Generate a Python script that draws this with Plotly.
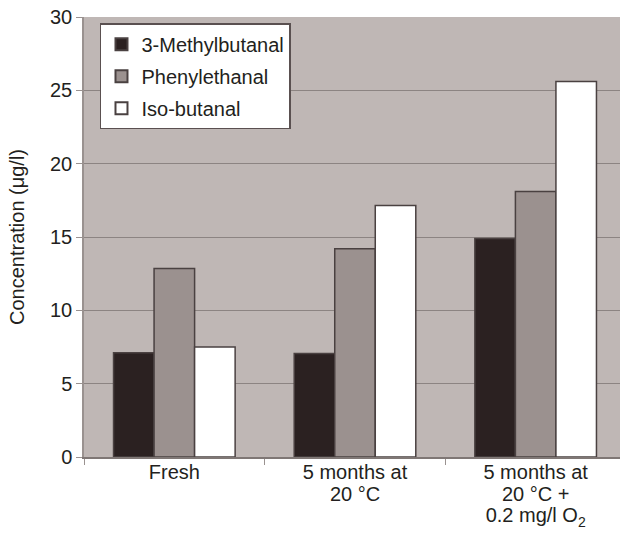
import plotly.graph_objects as go

categories = ["Fresh", "5 months at<br>20 °C", "5 months at<br>20 °C +<br>0.2 mg/l O<sub>2</sub>"]
series_names = ["3-Methylbutanal", "Phenylethanal", "Iso-butanal"]
methylbutanal = [7.1, 7.05, 14.9]
phenylethanal = [12.85, 14.2, 18.1]
isobutanal = [7.5, 17.15, 25.6]
y_ticks = [0, 5, 10, 15, 20, 25, 30]

colors = ["#2b2121", "#9b918f", "#ffffff"]
values = [methylbutanal, phenylethanal, isobutanal]

FONT = "Liberation Sans, Arial, sans-serif"
TXT = "#231f20"

# larger glyphs but tighter line spacing for the multi-line category labels
tick_text = ['<span style="font-size:20px">' + c.replace("<br>", '</span><br><span style="font-size:20px">') + "</span>"
             for c in categories]

fig = go.Figure()
for i, (name, vals, col) in enumerate(zip(series_names, values, colors)):
    fig.add_trace(go.Bar(
        x=categories, y=vals, name=name, legendgroup=f"g{i}",
        marker=dict(color=col, line=dict(color="#4a4141", width=1.5)),
    ))

fig.update_layout(
    width=626, height=533,
    margin=dict(l=84, r=0, t=17, b=75.5),
    paper_bgcolor="white",
    plot_bgcolor="#bfb7b5",
    barmode="group",
    bargap=0.327,
    bargroupgap=0,
    font=dict(family=FONT, size=20, color=TXT),
    showlegend=True,
    legend=dict(
        x=0.0295, y=0.986, xanchor="left", yanchor="top",
        bgcolor="white", bordercolor="#5a5050", borderwidth=1.5,
        font=dict(size=20, family=FONT, color=TXT),
        tracegroupgap=3, itemsizing="constant",
    ),
    xaxis=dict(
        type="category",
        tickmode="array", tickvals=categories, ticktext=tick_text,
        tickson="boundaries",
        ticks="outside", ticklen=6, tickcolor="#9a9290",
        showline=True, linecolor="#7f7775", linewidth=2,
        showgrid=False,
        automargin=False,
        tickfont=dict(size=16.7, family=FONT, color=TXT),
    ),
    yaxis=dict(
        range=[0, 30],
        tickvals=y_ticks,
        ticks="outside", ticklen=6, tickcolor="#9a9290",
        showline=True, linecolor="#9a9290", linewidth=1.5,
        showgrid=True, gridcolor="#8c8482", gridwidth=1,
        zeroline=False,
        automargin=False,
        ticklabeloverflow="allow",
        tickfont=dict(size=20, family=FONT, color=TXT),
        title=dict(text="Concentration (μg/l)", font=dict(size=20, family=FONT, color=TXT), standoff=20),
    ),
)

fig.write_html(
    "out.html",
    config={"displayModeBar": False},
    post_script="document.body.style.margin='0';document.body.style.overflow='hidden';document.documentElement.style.overflow='hidden';",
)
